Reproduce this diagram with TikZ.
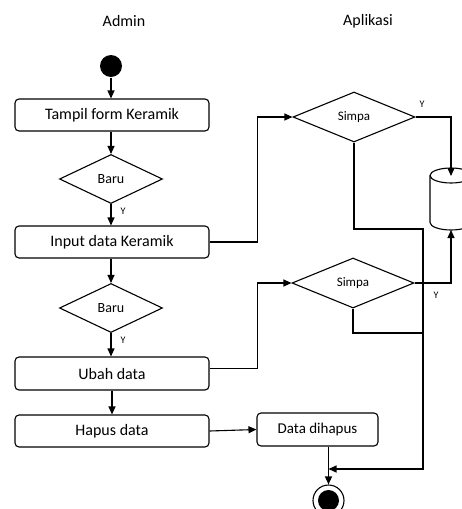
\documentclass[tikz,border=0pt]{standalone}
\usepackage{fontspec}
\setmainfont{Carlito}
\usetikzlibrary{arrows.meta,shapes.geometric}
\begin{document}
\begin{tikzpicture}[x=1pt,y=-1pt,line width=1.1pt,
  act/.style={draw,rounded corners=4pt,minimum width=194pt,minimum height=32pt,inner sep=0pt,font=\fontsize{16}{18}\selectfont},
  dec/.style={draw,diamond,inner sep=0pt,minimum width=103pt,minimum height=49pt,font=\fontsize{14}{16}\selectfont},
  save/.style={draw,diamond,inner sep=0pt,minimum width=122pt,minimum height=50pt,font=\fontsize{13}{15}\selectfont},
  arr/.style={-{Triangle[length=8pt,width=7pt]}},
  lbl/.style={font=\fontsize{10}{12}\selectfont,inner sep=0pt},
  title/.style={font=\fontsize{16}{18}\selectfont,inner sep=0pt}]
\useasboundingbox (0,0) rectangle (462,509);
\clip (0,0) rectangle (462,509);

% swimlane titles
\node[title] (tadmin) at (124,21) {Admin};
\node[title] (tapp) at (368,21) {Aplikasi};

% admin lane
\node[circle,fill,minimum size=22pt,inner sep=0pt] (start) at (111,66) {};
\node[act] (b1) at (112,115) {Tampil form Keramik};
\node[dec] (d1) at (111,179) {Baru};
\node[act] (b2) at (112,242) {Input data Keramik};
\node[dec] (d2) at (111,308) {Baru};
\node[act,minimum height=33pt] (b3) at (112,373.5) {Ubah data};
\node[act] (b4) at (112,431) {Hapus data};

% application lane
\node[save] (s1) at (354,117) {Simpa};
\node[save] (s2) at (353,283) {Simpa};
\node[draw,rounded corners=4pt,minimum width=121pt,minimum height=33pt,inner sep=0pt,font=\fontsize{15}{17}\selectfont] (b5) at (317.5,429.5) {Data dihapus};

% final state
\node[circle,draw,minimum size=31pt,inner sep=0pt] (end) at (328.5,500.5) {};
\node[circle,fill,minimum size=21pt,inner sep=0pt] (endin) at (end.center) {};

% database cylinder
\draw (430,175.5) -- (430,222.5) arc[start angle=180,end angle=0,x radius=21,y radius=7.5]
      -- (472,175.5);
\draw (451,175.5) ellipse [x radius=21,y radius=7.5];
\coordinate (dbtop) at (451,176);
\coordinate (dbbot) at (451,230);

% admin flow
\draw[arr] (start) -- (start |- b1.north);
\draw[arr] (b1.south -| d1.north) -- (d1.north);
\draw[arr] (d1.south) -- (d1.south |- b2.north);
\draw[arr] (b2.south -| d2.north) -- (d2.north);
\draw[arr] (d2.south) -- (d2.south |- b3.north);
\draw[arr] (b3.south -| b4.north) -- (b4.north);
\draw[arr] (b4.east) -- (b5.west);
\node[lbl] (y1) at (123,211) {Y};
\node[lbl] (y2) at (123,340) {Y};

% save requests
\draw[arr] (b2.east) -- ++(48,0) |- (s1.west);
\draw[arr] ([yshift=5pt]b3.east) -- ++(48,0) |- (s2.west);

% saved into the database
\draw[arr] (s1.east) -| (dbtop);
\draw[arr] (s2.east) -| (dbbot);
\node[lbl] (y3) at (422,104) {Y};
\node[lbl] (y4) at (436,295) {Y};

% other branches lead to the final state
\coordinate (j) at (330,469);
\draw[arr] (s1.south) |- (423,229) -- (423,469) -- (end.north |- j);
\draw (s2.south) |- (423,333);
\draw[arr] (end.north |- b5.south) -- (end.north);
\end{tikzpicture}
\end{document}
